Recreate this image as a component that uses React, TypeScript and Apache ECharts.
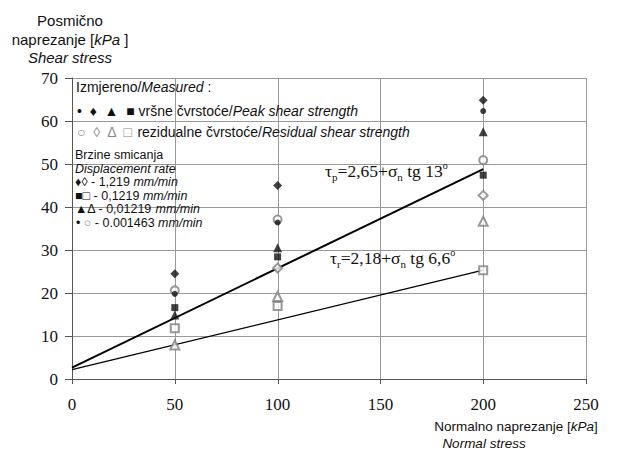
import React, { useEffect, useRef } from "react";
import * as echarts from "echarts";

// Normal stress levels of the direct shear tests [kPa]
const normalStress = [50, 100, 200];

// Peak shear strength [kPa] per displacement rate
const peak1219 = [24.5, 45.0, 64.8]; // 1,219 mm/min
const peak01219 = [16.6, 28.4, 47.4]; // 0,1219 mm/min
const peak001219 = [14.9, 30.5, 57.5]; // 0,01219 mm/min
const peak0001463 = [19.8, 36.4, 62.3]; // 0.001463 mm/min

// Residual shear strength [kPa] per displacement rate
const resid1219: (number | null)[] = [null, 25.8, 42.7];
const resid01219 = [11.8, 17.0, 25.3];
const resid001219 = [7.9, 19.2, 36.7];
const resid0001463 = [20.6, 37.1, 50.9];

// Failure envelopes: tau = c + sigma_n * tg(phi)
const peakIntercept = 2.65;
const peakAngle = 13;
const residIntercept = 2.18;
const residAngle = 6.6;
const envelopeRange = [0, 200];

const xTicks = { min: 0, max: 250, interval: 50 };
const yTicks = { min: 0, max: 70, interval: 10 };
const xGridValues = [0, 50, 100, 150, 200, 250];

const SANS = "Liberation Sans, Arial, sans-serif";
const SERIF = "Liberation Serif, Times New Roman, serif";

const envelope = (c: number, phiDeg: number) =>
  envelopeRange.map((s) => [s, c + s * Math.tan((phiDeg * Math.PI) / 180)]);

const pairs = (ys: (number | null)[]) =>
  normalStress.map((x, i) => [x, ys[i]]).filter((p) => p[1] != null);

const filled = (name: string, ys: (number | null)[], symbol: string, size: number) => ({
  name,
  type: "scatter",
  data: pairs(ys),
  symbol,
  symbolSize: size,
  itemStyle: { color: "#111" },
  z: 5,
});

const hollow = (name: string, ys: (number | null)[], symbol: string, size: number) => ({
  name,
  type: "scatter",
  data: pairs(ys),
  symbol,
  symbolSize: size,
  itemStyle: { color: "#808080", borderWidth: 1 },
  z: 4,
});

const eqRich = {
  m: { fontFamily: SERIF, fontSize: 17.5, lineHeight: 22, verticalAlign: "middle", fill: "#111" },
  s: { fontFamily: SERIF, fontSize: 11, lineHeight: 11, verticalAlign: "bottom", fill: "#111" },
  o: { fontFamily: SERIF, fontSize: 10, lineHeight: 10, verticalAlign: "top", fill: "#111" },
};

const legRich = (size: number, lh: number) => ({
  r: { fontFamily: SANS, fontSize: size, lineHeight: lh, fill: "#111" },
  i: { fontFamily: SANS, fontSize: size, lineHeight: lh, fontStyle: "italic", fill: "#111" },
  g: { fontFamily: SANS, fontSize: size, lineHeight: lh, fill: "#888" },
});

const txt = (x: number, y: number, text: string, rich: any, align = "left") => ({
  type: "text",
  x,
  y,
  style: { text, rich, align, verticalAlign: "middle" },
  z: 10,
});

// vertical grid line plus an outward tick for each x value, drawn as 1px filled bars
const renderXGrid = (_params: any, api: any) => {
  const v = api.value(0);
  const top = api.coord([v, yTicks.max]);
  const bottom = api.coord([v, yTicks.min]);
  const x = Math.round(top[0]);
  return {
    type: "group",
    children: [
      {
        type: "rect",
        shape: { x, y: top[1], width: 1, height: bottom[1] - top[1] },
        style: { fill: v === 0 ? "#555" : "#999", stroke: null },
      },
      {
        type: "rect",
        shape: { x, y: bottom[1], width: 1, height: 5 },
        style: { fill: "#555", stroke: null },
      },
    ],
  };
};

export default function App() {
  const ref = useRef<HTMLDivElement>(null);

  useEffect(() => {
    if (!ref.current) return;
    const chart = echarts.init(ref.current, null, { renderer: "svg" });
    const titleRich = (size: number) => ({
      r: { fontFamily: SANS, fontSize: size, fill: "#111" },
      i: { fontFamily: SANS, fontSize: size, fontStyle: "italic", fill: "#111" },
    });
    chart.setOption({
      animation: false,
      grid: { left: 72, right: 39, top: 78, bottom: 71 },
      xAxis: {
        type: "value",
        ...xTicks,
        axisLine: { show: true, lineStyle: { color: "#555", width: 1 } },
        axisTick: { show: false },
        axisLabel: { fontFamily: SERIF, fontSize: 17, color: "#111", margin: 17 },
        splitLine: { show: false },
      },
      yAxis: {
        type: "value",
        ...yTicks,
        axisLine: { show: true, lineStyle: { color: "#555", width: 1 } },
        axisTick: { show: true, length: 7, lineStyle: { color: "#555", width: 1 } },
        axisLabel: { fontFamily: SERIF, fontSize: 17, color: "#111", margin: 14 },
        splitLine: { show: true, lineStyle: { color: "#999999", width: 1, type: "solid" } },
      },
      series: [
        {
          name: "x grid",
          type: "custom",
          data: xGridValues.map((v) => [v, yTicks.min]),
          renderItem: renderXGrid,
          silent: true,
          clip: false,
          z: 1,
        },
        {
          name: "peak envelope",
          type: "line",
          data: envelope(peakIntercept, peakAngle),
          symbol: "none",
          lineStyle: { color: "#000", width: 2 },
          z: 3,
        },
        {
          name: "residual envelope",
          type: "line",
          data: envelope(residIntercept, residAngle),
          symbol: "none",
          lineStyle: { color: "#000", width: 1.3 },
          z: 3,
        },
        hollow("res 1,219", resid1219, "emptyDiamond", 9),
        hollow("res 0,1219", resid01219, "emptyRect", 8),
        hollow("res 0,01219", resid001219, "emptyTriangle", 9),
        hollow("res 0.001463", resid0001463, "emptyCircle", 8),
        filled("peak 1,219", peak1219, "diamond", 9),
        filled("peak 0,1219", peak01219, "rect", 7),
        filled("peak 0,01219", peak001219, "triangle", 9),
        filled("peak 0.001463", peak0001463, "circle", 6),
      ],
      graphic: [
        // y-axis title
        txt(70, 20, "{r|Posmično}", titleRich(15), "center"),
        txt(70, 39, "{r|naprezanje [}{i|kPa}{r| ]}", titleRich(15), "center"),
        txt(70, 57, "{i|Shear stress}", titleRich(15), "center"),
        // x-axis title
        txt(516, 426, "{r|Normalno naprezanje [}{i|kPa}{r|]}", titleRich(13.5), "center"),
        txt(484, 443, "{i|Normal stress}", titleRich(13.5), "center"),
        // marker key
        txt(76, 87, "{r|Izmjereno/}{i|Measured}{r| :}", legRich(14, 16)),
        txt(77, 111, "{r|•  ♦  ▲  ■ vršne čvrstoće/}{i|Peak shear strength}", legRich(14, 16)),
        txt(77, 132, "{g|○  ◊  Δ  □ }{r|rezidualne čvrstoće/}{i|Residual shear strength}", legRich(14, 16)),
        txt(75, 155, "{r|Brzine smicanja}", legRich(12.5, 11)),
        txt(75, 168.5, "{i|Displacement rate}", legRich(12.5, 11)),
        txt(75, 182, "{r|♦◊ - 1,219 }{i|mm/min}", legRich(12.5, 11)),
        txt(75, 195.5, "{r|■□ - 0,1219 }{i|mm/min}", legRich(12.5, 11)),
        txt(75, 209, "{r|▲Δ - 0,01219 }{i|mm/min}", legRich(12.5, 11)),
        txt(76, 222.5, "{r|•}{g| ○}{r| - 0.001463 }{i|mm/min}", legRich(12.5, 11)),
        // envelope equations
        txt(325, 171, "{m|τ}{s|p}{m|=2,65+σ}{s|n}{m| tg 13}{o|o}", eqRich),
        txt(330, 258, "{m|τ}{s|r}{m|=2,18+σ}{s|n}{m| tg 6,6}{o|o}", eqRich),
      ],
    });
    return () => chart.dispose();
  }, []);

  return (
    <div
      ref={ref}
      style={{ position: "fixed", left: 0, top: 0, width: 625, height: 450, background: "#fff" }}
    />
  );
}
